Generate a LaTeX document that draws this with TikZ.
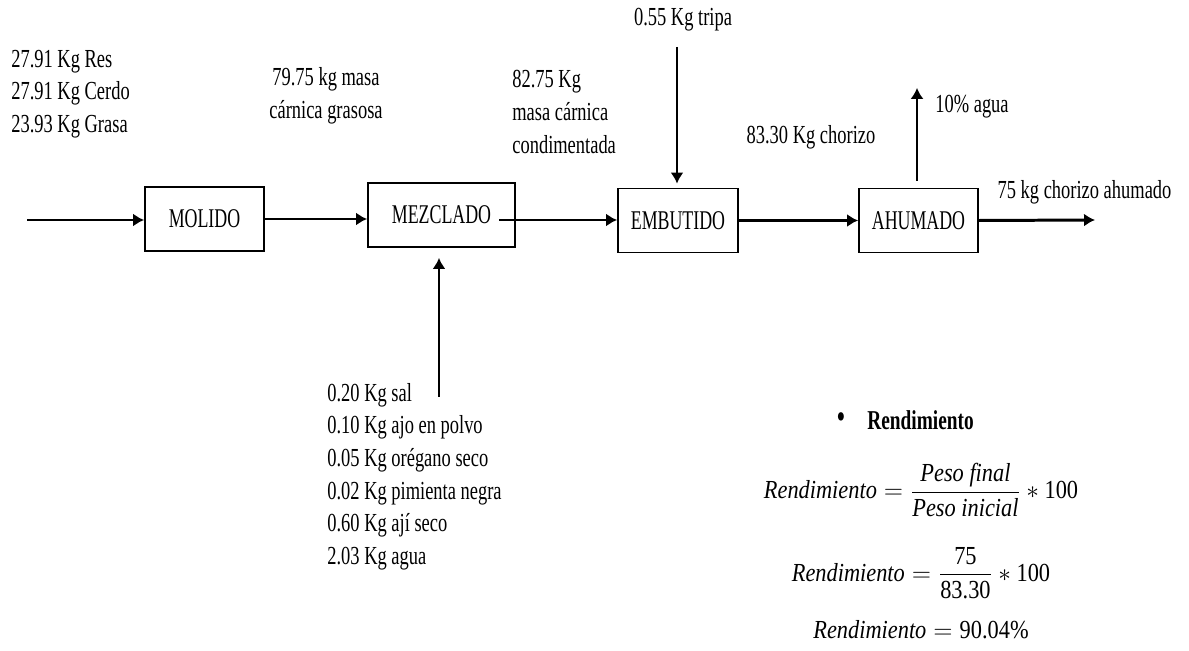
\documentclass[tikz,border=0pt]{standalone}
\usepackage{amsmath}
\usepackage{fontspec}
\setmainfont{Liberation Serif}[FakeStretch=0.71]
\newfontfamily\boxfont{Liberation Serif}[FakeStretch=0.66]
\newfontfamily\eqfont{Liberation Serif}[FakeStretch=0.86]
\usetikzlibrary{arrows,arrows.meta,shapes,positioning,calc}

\begin{document}
\begin{tikzpicture}[x=0.02cm, y=-0.02cm, >={Latex[length=2.2mm,width=2.6mm]},
    block/.style={rectangle, draw, line width=1pt, minimum height=1.28cm, font=\boxfont\fontsize{15.4}{16}\selectfont},
    descr/.style={inner sep=0pt, font=\fontsize{14.8}{18.6}\selectfont},
    formula/.style={inner sep=0pt, font=\eqfont\fontsize{14.8}{18}\selectfont},
    line/.style={draw, ->, line width=1.7pt}]

    \useasboundingbox (0,0) rectangle (1189,651);

    % process blocks
    \node [block, minimum width=2.38cm] (mol) at (204.5,219) {MOLIDO};
    \node [block, minimum width=2.94cm] (mez) at (441.5,215) {MEZCLADO};
    \node [block, minimum width=2.40cm] (emb) at (678,220.5) {EMBUTIDO};
    \node [block, minimum width=2.38cm] (ahu) at (918.5,220.5) {AHUMADO};

    % free ends
    \coordinate (in) at (27,220);
    \coordinate (out) at (1095,220);
    \coordinate (tr) at (677,47);
    \coordinate (ag) at (917,88);
    \coordinate (sp) at (439,397);
    \coordinate (mo) at (499,220);

    % streams
    \node [descr, anchor=west, align=left] (carnes) at (11,94) {27.91 Kg Res\\27.91 Kg Cerdo\\23.93 Kg Grasa};
    \node [descr, align=center] (masa) at (326,96) {79.75 kg masa\\cárnica grasosa};
    \node [descr, anchor=west, align=left] (cond) at (512,112) {82.75 Kg\\masa cárnica\\condimentada};
    \node [descr] (tripa) at (683,20) {0.55 Kg tripa};
    \node [descr] (chor) at (811,137) {83.30 Kg chorizo};
    \node [descr, anchor=west] (agua) at (935,107) {10\% agua};
    \node [descr] (ahum) at (1084.5,192) {75 kg chorizo ahumado};
    \node [descr, anchor=west, align=left] (spices) at (327,476.5) {0.20 Kg sal\\0.10 Kg ajo en polvo\\0.05 Kg orégano seco\\0.02 Kg pimienta negra\\0.60 Kg ají seco\\2.03 Kg agua};

    % rendimiento
    \node [descr, font=\fontsize{20}{20}\selectfont] (bul) at (841,421) {\textbullet};
    \node [descr, anchor=west, font=\fontsize{15.5}{18}\selectfont] (rend) at (867,420) {\textbf{Rendimiento}};
    \node [formula] (f1) at (921,490) {$\textit{Rendimiento} = \dfrac{\textit{Peso final}}{\textit{Peso inicial}} \ast \textup{100}$};
    \node [formula] (f2) at (921,573) {$\textit{Rendimiento} = \dfrac{\textup{75}}{\textup{83.30}} \ast \textup{100}$};
    \node [formula] (f3) at (921,630) {$\textit{Rendimiento} = \textup{90.04\%}$};

    \path [line] (in) -- (in -| mol.west);
    \path [line] (mol.east) -- (mol.east -| mez.west);
    \path [line] (mo) -- (mo -| emb.west);
    \path [line] (emb.east) -- (emb.east -| ahu.west);
    \path [line] (ahu.east) -- (out);
    \path [line, line width=1.3pt, shorten >=0.08cm] (tr) -- (tr |- emb.north);
    \path [line, line width=1.3pt, shorten >=0.2cm] (sp) -- (sp |- mez.south);
    \path [line, line width=0.9pt, shorten <=0.14cm] (ag |- ahu.north) -- (ag);
\end{tikzpicture}
\end{document}
